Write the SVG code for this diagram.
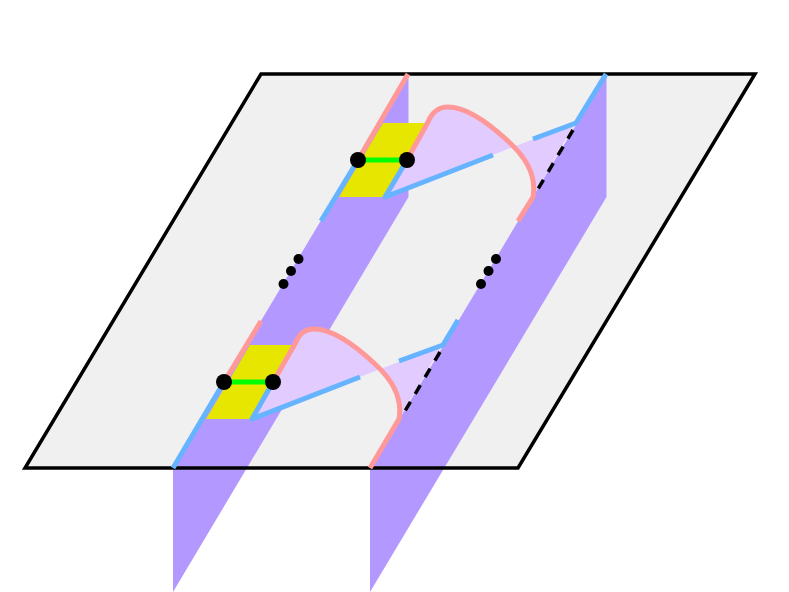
<svg xmlns="http://www.w3.org/2000/svg" width="789" height="592" viewBox="0 0 789 592">
<style>
.strip{fill:#b399ff}
.yellow{fill:#e6e600}
.lav{fill:#e2ccff}
.pink,.blue,.dash,.green{fill:none;stroke-width:5;stroke-linejoin:round}
.pink{stroke:#ff9999}
.blue{stroke:#66b3ff}
.green{stroke:#00ff00}
.dash{stroke:#000;stroke-width:3.500;stroke-dasharray:10 9.300}
</style>
<rect width="789" height="592" fill="#fff"/>
<g id="plane-fill"><path d="M261,74H755L518,468H25Z" fill="#f0f0f0"/></g>
<g id="strips">
<path class="strip" d="M173,468L408.500,74V197L173,592Z"/>
<path class="strip" d="M370,468L606.500,74V197L370,592Z"/>
</g>
<g id="plane-outline"><path d="M261,74H755L518,468H25Z" fill="none" stroke="#000" stroke-width="3.500"/></g>
<g id="top-cell">
<path class="yellow" d="M383,123H427L385,197H339Z"/>
<path class="lav" d="M385,197L428,122C433,110 440,107 448,107C468,107 490,124 510,143C524,156 537,175 533,197L575,123Z"/>
<path class="dash" d="M573,130L538,189"/>
<path class="pink" d="M408,74L358,160M407,160L428,122C433,110 440,107 448,107C468,107 490,124 510,143C524,156 537,175 533,197L518,221"/>
<path class="blue" d="M358,160L321,221M407,160L385,197L493,155M533,139L576,123L606,74"/>
<path class="green" d="M358,160H407"/>
<circle cx="358" cy="160" r="8"/><circle cx="407" cy="160" r="8"/>
</g>
<g id="bottom-cell">
<path class="yellow" d="M250,345H293L252,419H206Z"/>
<path class="lav" d="M252,419L295,344C300,332 306,329 314,329C334,329 356,346 376,365C390,378 403,397 399,419L442,345Z"/>
<path class="dash" d="M440,352L405,411"/>
<path class="pink" d="M261,321L224,382M273,382L295,344C300,332 306,329 314,329C334,329 356,346 376,365C390,378 403,397 399,419L370,468"/>
<path class="blue" d="M224,382L173,468M273,382L252,419L360,377M399,361L443,345L458,320"/>
<path class="green" d="M224,382H273"/>
<circle cx="224" cy="382" r="8"/><circle cx="273" cy="382" r="8"/>
</g>
<g id="ellipsis-left"><circle cx="298.500" cy="259" r="5"/><circle cx="291" cy="271" r="5"/><circle cx="283.500" cy="284" r="5"/></g>
<g id="ellipsis-right"><circle cx="496" cy="259" r="5"/><circle cx="488.500" cy="271" r="5"/><circle cx="481" cy="284" r="5"/></g>
</svg>
